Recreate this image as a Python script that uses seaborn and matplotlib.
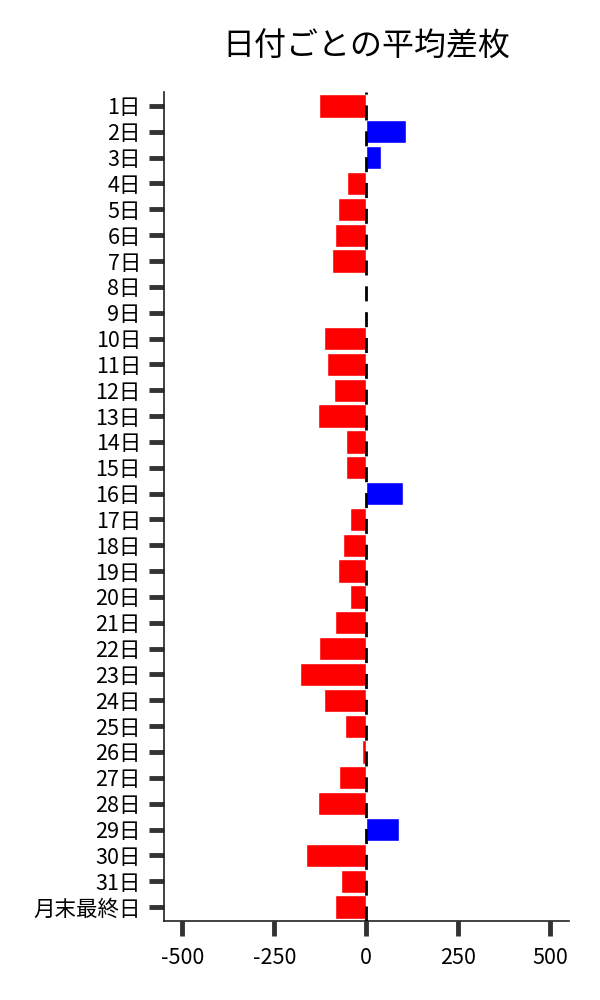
import matplotlib
matplotlib.use("Agg")
import matplotlib.pyplot as plt
import seaborn as sns
import pandas as pd

labels = [f"{d}日" for d in range(1, 32)] + ["月末最終日"]
values = [-129, 109, 39, -53, -78, -86, -94, 0, 1, -116, -108,
          -89, -132, -56, -56, 101, -45, -64, -78, -43, -86, -129,
          -181, -116, -59, -13, -75, -132, 88, -165, -70, -86]
xticks = [-500, -250, 0, 250, 500]

df = pd.DataFrame({"label": labels, "value": values})
df["sign"] = ["pos" if v >= 0 else "neg" for v in values]

sns.set_theme(style="ticks")
plt.rcParams["font.family"] = ["Noto Sans CJK JP", "DejaVu Sans"]

fig = plt.figure(figsize=(6, 10), dpi=100)
ax = fig.add_axes([0.273, 0.079, 0.675, 0.829])

sns.barplot(data=df, x="value", y="label", hue="sign",
            palette={"pos": "#0000ff", "neg": "#ff0000"},
            dodge=False, legend=False, width=0.9, ax=ax, orient="h",
            saturation=1)

lw = 2.0
on_px, off_px = 15.0, 10.84
ax.axvline(0, color="black", linewidth=lw, zorder=5,
           linestyle=(0, (on_px * 0.72 / lw, off_px * 0.72 / lw)))

ax.set_xlim(-550, 550)
ax.set_ylim(len(labels) - 0.46, -0.54)
ax.set_xticks(xticks)
ax.set_xticklabels([str(t) for t in xticks])
ax.set_xlabel("")
ax.set_ylabel("")
ax.set_title("日付ごとの平均差枚", fontsize=23, pad=26, color="black")

ax.tick_params(axis="both", length=10.5, width=3.5, color="#333333",
               labelsize=15.5, pad=6, labelcolor="black")
ax.tick_params(axis="x", pad=8)
for s in ["left", "bottom"]:
    ax.spines[s].set_color("#222222")
    ax.spines[s].set_linewidth(1.2)
sns.despine(ax=ax)

fig.savefig("out.png", dpi=100)
